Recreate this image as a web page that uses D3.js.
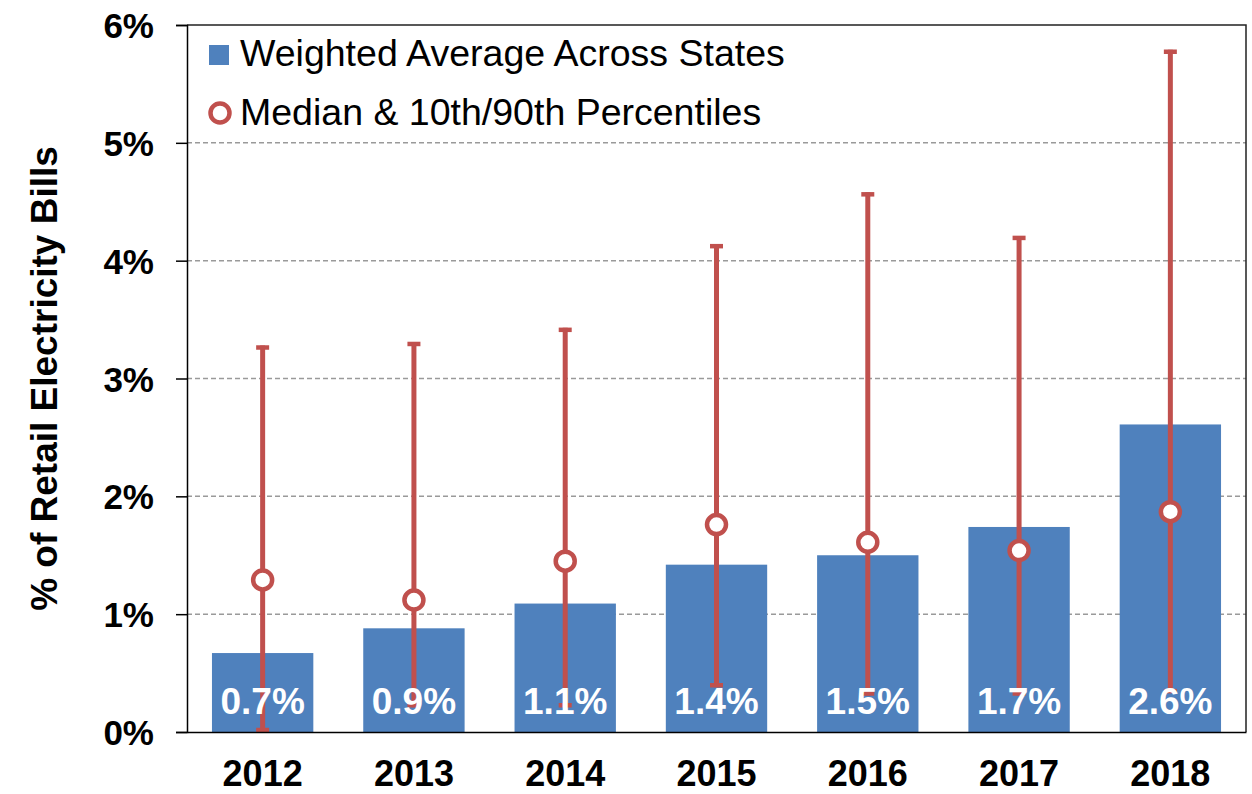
<!DOCTYPE html>
<html>
<head>
<meta charset="utf-8">
<script src="https://cdn.jsdelivr.net/npm/d3@7"></script>
<style>
  body { margin: 0; background: #fff; }
  text { font-family: "Liberation Sans", Arial, sans-serif; }
</style>
</head>
<body>
<div id="container"></div>
<script>
let width = 1252;
let height = 794;

// values, in percent
var years = ["2012", "2013", "2014", "2015", "2016", "2017", "2018"];
var weighted = [0.67, 0.88, 1.09, 1.42, 1.50, 1.74, 2.61];
var medians = [1.29, 1.12, 1.45, 1.76, 1.61, 1.54, 1.87];
var p10 = [0.0, 0.21, 0.21, 0.38, 0.31, 0.31, 0.33];
var p90 = [3.28, 3.31, 3.43, 4.14, 4.58, 4.21, 5.79];
var yTicks = [0, 1, 2, 3, 4, 5, 6];

var legendItems = ["Weighted Average Across States", "Median & 10th/90th Percentiles"];

var barColor = "#4F81BD";
var redColor = "#C0504D";

// plot area (window.top is reserved, so no "top" here)
var plotL = 187, plotR = 1246, plotT = 25, plotB = 732;

let viz = d3.select("#container").append("svg")
    .attr("width", width)
    .attr("height", height)
;

let x = d3.scaleBand()
  .domain(years)
  .range([plotL, plotR])
  .paddingInner(0.33)
  .paddingOuter(0.165)
;

let y = d3.scaleLinear()
  .domain([0, 6])
  .range([plotB, plotT])
;

var rows = years.map(function(d, i) {
  return {year: d, avg: weighted[i], med: medians[i], lo: p10[i], hi: p90[i]};
});

//gridlines
viz.append("g")
  .selectAll("line")
  .data(yTicks.filter(function(d){ return d > 0 && d < 6; }))
  .enter().append("line")
    .attr("x1", plotL)
    .attr("x2", plotR)
    .attr("y1", function(d){ return y(d); })
    .attr("y2", function(d){ return y(d); })
    .attr("stroke", "#9a9a9a")
    .attr("stroke-width", 1.5)
    .attr("stroke-dasharray", "5,3")
;

//border on top and right
viz.append("path")
  .attr("d", "M" + plotL + "," + plotT + "H" + plotR + "V" + plotB)
  .attr("fill", "none")
  .attr("stroke", "#222")
  .attr("stroke-width", 1.5)
;

//bars
viz.append("g")
  .selectAll("rect")
  .data(rows)
  .enter().append("rect")
    .attr("x", function(d){ return x(d.year); })
    .attr("width", x.bandwidth())
    .attr("y", function(d){ return y(d.avg); })
    .attr("height", function(d){ return y(0) - y(d.avg); })
    .attr("fill", barColor)
;

//error bars
let whisk = viz.append("g")
  .selectAll("g")
  .data(rows)
  .enter().append("g")
;

whisk.append("line")
  .attr("x1", function(d){ return x(d.year) + x.bandwidth()/2; })
  .attr("x2", function(d){ return x(d.year) + x.bandwidth()/2; })
  .attr("y1", function(d){ return y(d.lo); })
  .attr("y2", function(d){ return y(d.hi); })
  .attr("stroke", redColor)
  .attr("stroke-width", 5)
;

whisk.append("line")
  .attr("x1", function(d){ return x(d.year) + x.bandwidth()/2 - 6.5; })
  .attr("x2", function(d){ return x(d.year) + x.bandwidth()/2 + 6.5; })
  .attr("y1", function(d){ return y(d.hi) + 2; })
  .attr("y2", function(d){ return y(d.hi) + 2; })
  .attr("stroke", redColor)
  .attr("stroke-width", 4.5)
;

whisk.append("line")
  .attr("x1", function(d){ return x(d.year) + x.bandwidth()/2 - 6.5; })
  .attr("x2", function(d){ return x(d.year) + x.bandwidth()/2 + 6.5; })
  .attr("y1", function(d){ return y(d.lo) - 2; })
  .attr("y2", function(d){ return y(d.lo) - 2; })
  .attr("stroke", redColor)
  .attr("stroke-width", 4.5)
;

//bar labels
viz.append("g")
  .selectAll("text")
  .data(rows)
  .enter().append("text")
    .attr("x", function(d){ return x(d.year) + x.bandwidth()/2; })
    .attr("y", y(0) - 18)
    .attr("text-anchor", "middle")
    .style("font-size", "37px")
    .style("font-weight", "bold")
    .style("fill", "#fff")
    .text(function(d){ return d3.format(".1f")(d.avg) + "%"; })
;

//medians
viz.append("g")
  .selectAll("circle")
  .data(rows)
  .enter().append("circle")
    .attr("cx", function(d){ return x(d.year) + x.bandwidth()/2; })
    .attr("cy", function(d){ return y(d.med); })
    .attr("r", 9.5)
    .attr("fill", "#fff")
    .attr("stroke", redColor)
    .attr("stroke-width", 4.5)
;

//axes
let yAxis = d3.axisLeft(y)
  .tickValues(yTicks)
  .tickSize(11)
  .tickPadding(22)
  .tickFormat(function(d){ return d + "%"; })
;

let yg = viz.append("g")
  .attr("transform", "translate(" + plotL + ",0)")
  .call(yAxis)
;
yg.select(".domain").attr("stroke", "#000").attr("stroke-width", 1.5);
yg.selectAll(".tick line").attr("stroke", "#000").attr("stroke-width", 1.5);
yg.selectAll(".tick text")
  .style("font-size", "35px")
  .style("font-weight", "bold")
  .style("fill", "#000")
  .attr("dy", "0.36em")
;

let xAxis = d3.axisBottom(x).tickSize(0).tickPadding(28);
let xg = viz.append("g")
  .attr("transform", "translate(0," + plotB + ")")
  .call(xAxis)
;
xg.select(".domain").attr("stroke", "#000").attr("stroke-width", 1.5);
xg.selectAll(".tick text")
  .style("font-size", "36px")
  .style("font-weight", "bold")
  .style("fill", "#000")
  .attr("dy", "0.72em")
;

//y title
viz.append("text")
  .attr("transform", "translate(57," + (plotT + plotB)/2 + ") rotate(-90)")
  .attr("text-anchor", "middle")
  .style("font-size", "37px")
  .style("font-weight", "bold")
  .text("% of Retail Electricity Bills")
;

//legend
let legend = viz.append("g").attr("class", "legend");

legend.append("rect")
  .attr("x", 209)
  .attr("y", 45)
  .attr("width", 20)
  .attr("height", 20)
  .attr("fill", barColor)
;
legend.append("circle")
  .attr("cx", 220)
  .attr("cy", 113)
  .attr("r", 9.5)
  .attr("fill", "#fff")
  .attr("stroke", redColor)
  .attr("stroke-width", 4.5)
;
legend.selectAll("text")
  .data(legendItems)
  .enter().append("text")
    .attr("x", 240)
    .attr("y", function(d, i){ return 66 + i*59; })
    .style("font-size", "37.5px")
    .style("fill", "#000")
    .text(function(d){ return d; })
;
</script>
</body>
</html>
